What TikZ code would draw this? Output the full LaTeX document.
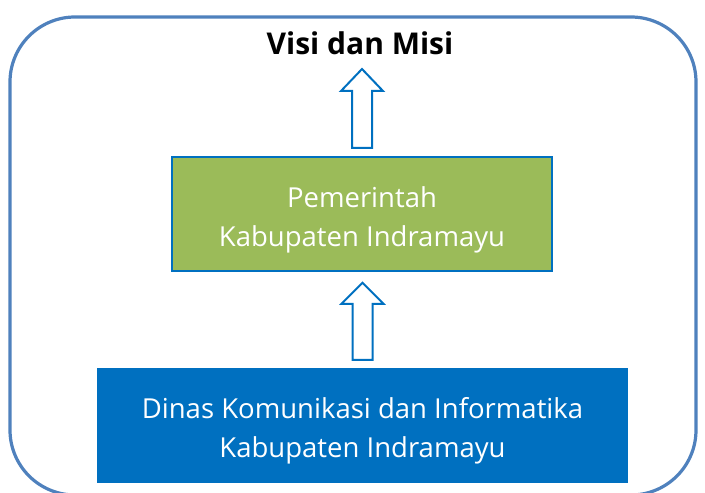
\documentclass[tikz,border=0pt]{standalone}
\usepackage{fontspec}
\setmainfont{Open Sans}
\usetikzlibrary{calc}
\definecolor{frameblue}{RGB}{79,129,189}
\definecolor{boxblue}{RGB}{0,112,192}
\definecolor{boxgreen}{RGB}{155,187,89}

\begin{document}
\begin{tikzpicture}[x=1pt,y=1pt,
    boxtext/.style={text=white,font=\fontsize{27.5}{39}\selectfont,align=center,inner sep=0pt},
    hollowarrow/.style={draw=boxblue,line width=2pt,fill=white,line join=miter}]
  \useasboundingbox (0,0) rectangle (705,493);
  \clip (0,0) rectangle (705,493);

  % Drawing outer frame
  \draw [frameblue, line width=3.2pt, rounded corners=65pt] (10,-2) rectangle (696,476);

  % Title
  \node (visi) [anchor=base] at (360,438) {\fontsize{30}{36}\selectfont\bfseries Visi dan Misi};

  % Box Pemerintah
  \node (pemda) [boxtext, fill=boxgreen, draw=boxblue, line width=2pt,
    minimum width=380pt, minimum height=114pt] at (362,279)
    {\rule{0pt}{33.6pt}Pemerintah\\Kabupaten Indramayu};

  % Box Dinas
  \node (diskominfo) [boxtext, fill=boxblue, minimum width=531pt,
    minimum height=115pt] at (362.5,67.5)
    {\rule{0pt}{32.6pt}Dinas Komunikasi dan Informatika\\Kabupaten Indramayu};

  % Arrow pemda -> visi
  \draw [hollowarrow] ($(pemda.north)+(-10,8)$) -- ++(0,57) -- ++(-11,0) -- ++(21,22)
    -- ++(21,-22) -- ++(-11,0) -- ++(0,-57) -- cycle;

  % Arrow diskominfo -> pemda
  \draw [hollowarrow] ($(diskominfo.north)+(-10,8)$) -- ++(0,56) -- ++(-11,0) -- ++(21,21)
    -- ++(21,-21) -- ++(-11,0) -- ++(0,-56) -- cycle;
\end{tikzpicture}
\end{document}
